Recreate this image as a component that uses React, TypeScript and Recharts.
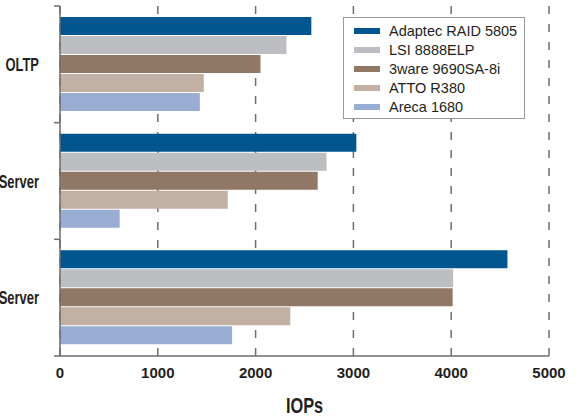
import { BarChart, Bar, XAxis, YAxis, CartesianGrid, Legend } from 'recharts';

const categories = ['OLTP', 'Server', 'Server'];
const adaptec = [2570, 3030, 4575];
const lsi = [2315, 2725, 4020];
const threeware = [2050, 2635, 4015];
const atto = [1470, 1715, 2355];
const areca = [1430, 610, 1760];
const xTicks = [0, 1000, 2000, 3000, 4000, 5000];

const series = [
  { key: 'adaptec', name: 'Adaptec RAID 5805', color: '#02568f' },
  { key: 'lsi', name: 'LSI 8888ELP', color: '#bdbec2' },
  { key: 'threeware', name: '3ware 9690SA-8i', color: '#917765' },
  { key: 'atto', name: 'ATTO R380', color: '#c3b0a4' },
  { key: 'areca', name: 'Areca 1680', color: '#99add3' },
];

const data = categories.map((name, i) => ({
  name,
  adaptec: adaptec[i],
  lsi: lsi[i],
  threeware: threeware[i],
  atto: atto[i],
  areca: areca[i],
}));

const TOP = 6;
const PLOT_H = 350;
const BAND = PLOT_H / categories.length;
const axisColor = '#6d6d6d';
const textColor = '#231f20';
const font = "'Liberation Sans', Arial, sans-serif";

// category label (squeezed, the original uses a condensed face) + ticks on the band edges
const CategoryTick = (props: any) => {
  const { x, y, payload, index } = props;
  const axisX = 60;
  const top = y - BAND / 2;
  return (
    <g>
      <line x1={axisX - 6} x2={axisX} y1={top} y2={top} stroke={axisColor} strokeWidth={1.5} />
      {index === categories.length - 1 && (
        <line x1={axisX - 6} x2={axisX} y1={y + BAND / 2} y2={y + BAND / 2} stroke={axisColor} strokeWidth={1.5} />
      )}
      <text
        transform={`translate(${x - 13}, ${y + 6.5}) scale(0.72, 1)`}
        textAnchor="end"
        fontFamily={font}
        fontWeight="bold"
        fontSize={18}
        fill={textColor}
      >
        {payload.value}
      </text>
    </g>
  );
};

const IopsLabel = (props: any) => {
  const { viewBox } = props;
  const cx = viewBox.x + viewBox.width / 2;
  const by = viewBox.y + viewBox.height - 4;
  return (
    <text
      transform={`translate(${cx}, ${by}) scale(0.76, 1)`}
      textAnchor="middle"
      fontFamily={font}
      fontWeight="bold"
      fontSize={21.5}
      fill={textColor}
    >
      IOPs
    </text>
  );
};

const LegendBox = () => (
  <div
    style={{
      width: 182,
      height: 102,
      boxSizing: 'border-box',
      border: '1px solid #9a9a9a',
      background: '#fff',
      padding: '4px 0 0 10px',
      fontFamily: font,
      fontSize: 14.5,
      color: textColor,
    }}
  >
    {series.map((s) => (
      <div key={s.key} style={{ display: 'flex', alignItems: 'center', height: 18.8 }}>
        <span style={{ display: 'inline-block', width: 26, height: 6, background: s.color, marginRight: 9 }} />
        <span>{s.name}</span>
      </div>
    ))}
  </div>
);

export default function App() {
  return (
    <div style={{ position: 'absolute', left: 0, top: 0, width: 580, height: 417, background: '#fff' }}>
      <BarChart
        width={580}
        height={417}
        data={data}
        layout="vertical"
        margin={{ top: TOP, right: 31, bottom: 0, left: 0 }}
        barSize={18}
        barGap={1}
      >
        <CartesianGrid
          horizontal={false}
          vertical
          stroke={axisColor}
          strokeWidth={1.5}
          strokeDasharray="8 10"
        />
        <XAxis
          type="number"
          domain={[0, 5000]}
          ticks={xTicks}
          tickLine={false}
          axisLine={{ stroke: axisColor, strokeWidth: 1.5 }}
          tickMargin={5}
          height={61}
          tick={{ fontFamily: font, fontWeight: 'bold', fontSize: 15, fill: textColor }}
          label={<IopsLabel />}
        />
        <YAxis
          type="category"
          dataKey="name"
          width={60}
          tickLine={false}
          axisLine={{ stroke: axisColor, strokeWidth: 1.5 }}
          tick={<CategoryTick />}
          interval={0}
          allowDuplicatedCategory
        />
        <Legend
          layout="vertical"
          align="center"
          verticalAlign="middle"
          content={<LegendBox />}
          wrapperStyle={{ left: 343, top: 17, width: 182, height: 102 }}
        />
        {series.map((s) => (
          <Bar key={s.key} dataKey={s.key} name={s.name} fill={s.color} isAnimationActive={false} />
        ))}
      </BarChart>
    </div>
  );
}
